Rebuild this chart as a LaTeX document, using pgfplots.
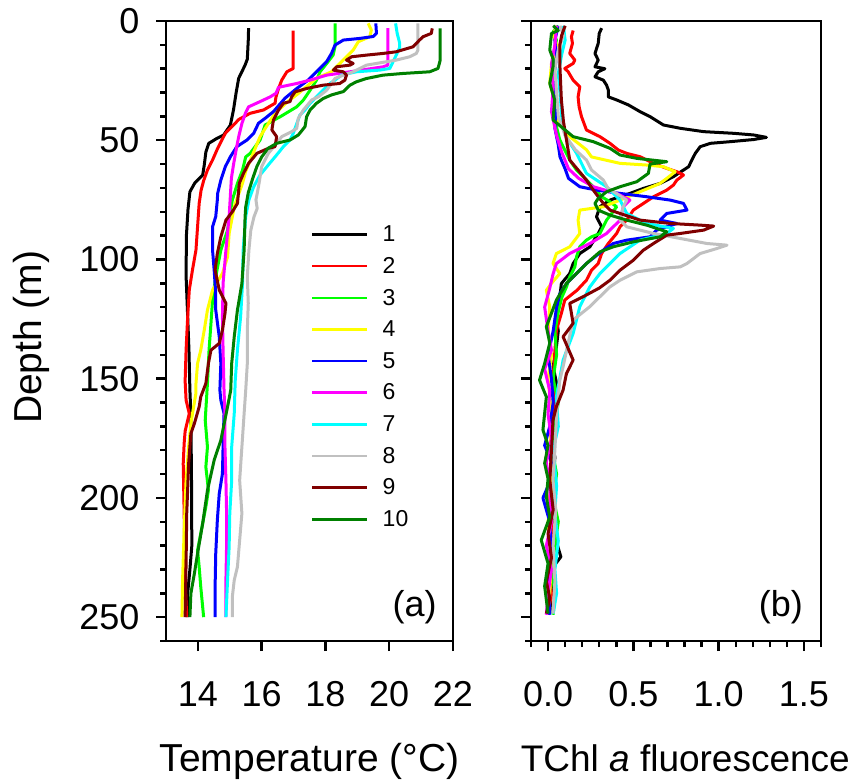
\documentclass[border=0pt]{standalone}
\usepackage{fontspec}
\setmainfont{Liberation Sans}
\usepackage{pgfplots}
\pgfplotsset{compat=1.18}
\definecolor{c1}{RGB}{0,0,0}
\definecolor{c2}{RGB}{255,0,0}
\definecolor{c3}{RGB}{0,255,0}
\definecolor{c4}{RGB}{255,255,0}
\definecolor{c5}{RGB}{0,0,255}
\definecolor{c6}{RGB}{255,0,255}
\definecolor{c7}{RGB}{0,255,255}
\definecolor{c8}{RGB}{192,192,192}
\definecolor{c9}{RGB}{128,0,0}
\definecolor{c10}{RGB}{0,128,0}
\pgfplotsset{
  myaxis/.style={
    scale only axis, height=620pt,
    ymin=0, ymax=260, y dir=reverse,
    ytick={0,50,...,250},
    minor ytick={10,20,30,40,60,70,80,90,110,120,130,140,160,170,180,190,210,220,230,240,260},
    tick align=outside, xtick pos=bottom, ytick pos=left,
    major tick length=10pt, minor tick length=6pt,
    axis line style={line width=2.6pt},
    every tick/.style={black, line width=2.4pt},
    tick label style={font=\fontsize{36}{43}\selectfont},
    xticklabel style={yshift=-27pt},
    yticklabel style={xshift=-13pt},
    /pgf/number format/assume math mode=true,
    label style={font=\fontsize{39}{47}\selectfont},
    every axis plot post/.append style={line width=3pt, line join=round, no marks},
  }
}
\begin{document}
\begin{tikzpicture}
\useasboundingbox (0pt,0pt) rectangle (854pt,784pt);
\begin{axis}[myaxis, at={(166pt,143pt)}, anchor=south west, width=287pt,
  xmin=13, xmax=22, xtick={14,16,18,20,22},
  xlabel={Temperature (°C)}, ylabel={Depth (m)},
  xlabel style={at={(axis description cs:0.5,-0.2108)}, anchor=base},
  ylabel style={at={(axis description cs:-0.433,0.49)}, anchor=base},
  legend style={at={(axis description cs:0.505,0.67)}, anchor=north west, draw=none, fill=none,
    inner sep=0pt, font=\fontsize{23}{27}\selectfont, row sep=14.2pt, column sep=14pt,
    nodes={inner sep=0pt}},
  legend cell align=left,
  legend image code/.code={\draw[#1, line width=2.6pt] (0pt,0pt) -- (55pt,0pt);},
]
\addplot[c1] coordinates {(15.59,3) (15.58,8) (15.55,16) (15.48,18.5) (15.28,24) (15.2,30) (15.12,37) (15.02,43.6) (14.81,47.8) (14.6,49.2) (14.34,51.3) (14.25,55) (14.2,60.4) (14.15,64.6) (13.9,68) (13.75,71.6) (13.69,79) (13.64,90) (13.63,107) (13.68,124) (13.72,138) (13.75,155) (13.78,165) (13.8,193) (13.81,220) (13.75,230) (13.68,240) (13.68,250)};
\addlegendentry{1}
\addplot[c2] coordinates {(16.99,4) (16.99,19.9) (16.79,21.3) (16.63,24.8) (16.53,28.3) (16.45,31.8) (16.42,34.5) (16.06,37.3) (15.64,38.7) (15.28,41.3) (15.17,42.9) (14.86,47.1) (14.7,51.3) (14.6,54) (14.46,58.3) (14.3,62.5) (14.18,67) (14.1,71) (14.04,76.5) (13.99,86.3) (13.94,96) (13.83,104.4) (13.73,112.8) (13.68,124) (13.63,138) (13.6,151) (13.63,159) (13.73,164.6) (13.6,172) (13.57,177) (13.54,185.6) (13.57,206.5) (13.6,234.5) (13.65,250)};
\addlegendentry{2}
\addplot[c3] coordinates {(18.3,1) (18.3,10.8) (18.24,14.3) (18.04,17.8) (17.83,21.3) (17.72,24.8) (17.52,29) (17.31,33.1) (17.1,36) (16.6,40) (16.11,43.6) (15.95,49.9) (15.64,55.5) (15.5,57) (15.4,62.5) (15.24,68.1) (15.08,75.1) (14.93,87.7) (14.72,96.1) (14.56,107.2) (14.46,117) (14.41,126.8) (14.35,138) (14.3,152) (14.23,167.4) (14.3,178.6) (14.25,187) (14.33,196.8) (14.25,203.7) (14.13,212.1) (13.99,221.9) (14.04,228.9) (14.09,237.3) (14.17,248.5) (14.18,250)};
\addlegendentry{3}
\addplot[c4] coordinates {(19.34,1) (19.44,3.8) (19.39,6.6) (19.03,8.7) (18.87,12.2) (18.66,15) (18.45,17.8) (18.19,21.3) (17.72,24) (17.15,30.4) (16.8,34) (16.42,38.7) (16.21,43) (15.95,48.5) (15.69,56.9) (15.5,63) (15.4,68) (15.14,77.9) (14.98,89.1) (14.93,98.9) (14.77,105.8) (14.46,112.8) (14.3,121.2) (14.2,129.6) (14.09,138) (13.99,143.6) (13.94,152) (13.94,156) (13.78,168.8) (13.71,178.6) (13.63,192.6) (13.57,213.5) (13.52,234.5) (13.5,250)};
\addlegendentry{4}
\addplot[c5] coordinates {(19.58,1) (19.6,5.2) (19.5,6.5) (19.08,7.3) (18.56,8) (18.3,10.1) (18.19,13.6) (18.04,17) (17.72,21.3) (17.46,24.8) (17.1,28.3) (16.73,32.4) (16.37,38) (16.11,40.8) (15.9,42.9) (15.75,47.1) (15.54,49.9) (15.22,52.7) (15.02,56.9) (14.86,61.1) (14.72,66.7) (14.62,72.3) (14.61,75) (14.56,82) (14.46,86.3) (14.46,96.1) (14.51,104.4) (14.56,114.2) (14.56,121.2) (14.67,132.4) (14.72,143.6) (14.69,154.8) (14.72,159) (14.82,164.6) (14.79,178.6) (14.77,189.8) (14.67,198.2) (14.61,209.3) (14.56,223.3) (14.54,237.3) (14.54,250)};
\addlegendentry{5}
\addplot[c6] coordinates {(19.96,3) (19.96,18.5) (19.81,19.2) (18.77,21.3) (18.04,22.7) (17.52,24.8) (17.1,26.2) (16.53,27.8) (16.45,30.3) (16.27,31.8) (15.95,33.8) (15.59,36) (15.49,38.7) (15.38,43) (15.28,48.5) (15.2,54) (15.12,60) (15.05,66) (14.98,82) (14.88,96) (14.79,110) (14.77,124) (14.79,138) (14.82,155) (14.85,165) (14.85,179) (14.88,193) (14.9,206) (14.9,220) (14.88,234) (14.88,250)};
\addlegendentry{6}
\addplot[c7] coordinates {(20.2,1) (20.25,5.2) (20.33,9.4) (20.33,11) (20.22,14.3) (20.07,18.5) (20.02,19.9) (19.7,20.6) (18.97,21.3) (18.5,22.7) (18.3,24.8) (18.14,26.2) (17.93,29) (17.78,31) (17.52,34.5) (17.36,37.3) (17.2,39.4) (16.99,47.1) (16.89,49.9) (16.68,52.7) (16.42,57) (16.23,60) (15.95,64.6) (15.75,69.5) (15.6,75) (15.5,82) (15.42,96) (15.4,110) (15.34,124) (15.24,138) (15.17,151) (15.14,164.6) (15.06,178.6) (15.06,192.6) (15.0,206.5) (14.98,220.5) (14.93,234.5) (14.88,250)};
\addlegendentry{7}
\addplot[c8] coordinates {(20.9,1) (20.9,12.2) (20.85,13.6) (20.64,15) (20.22,16.4) (19.29,18.5) (18.87,21.3) (18.56,22.7) (18.3,24.1) (18.19,26.2) (18.04,29) (17.78,31.8) (17.57,33.1) (17.31,37.3) (17.15,40.8) (17.1,45) (16.94,46.4) (16.63,48.5) (16.47,51.3) (16.21,55.5) (16.0,61.1) (15.92,68) (15.86,72.3) (15.82,75) (15.86,78.6) (15.76,82.1) (15.66,87.7) (15.6,96.1) (15.55,107.2) (15.58,118.4) (15.55,129.6) (15.55,143.6) (15.5,154.8) (15.45,164.6) (15.38,178.6) (15.31,192.6) (15.38,206.5) (15.31,217.7) (15.24,228.9) (15.14,234.5) (15.08,241.5) (15.08,250)};
\addlegendentry{8}
\addplot[c9] coordinates {(21.35,3.1) (21.32,5.2) (21.06,6.6) (20.95,8) (20.75,10.8) (20.22,12.9) (19.81,13.6) (19.29,14.3) (18.82,15) (18.66,16.4) (18.87,17.8) (18.77,18.5) (18.35,19.2) (18.25,20.6) (18.56,21.3) (18.66,22.7) (18.61,24.8) (18.45,26.2) (17.93,26.9) (17.41,28.3) (17.05,29.7) (16.94,31.8) (16.89,33.8) (16.68,34.5) (16.53,37.3) (16.37,41.5) (16.32,45.7) (16.47,48.5) (16.42,52.7) (16.21,53.4) (15.85,55.5) (15.59,59.7) (15.43,63.9) (15.3,68) (15.24,76.5) (15.08,80) (14.88,83.5) (14.72,90.5) (14.61,97.5) (14.54,104.4) (14.67,112.8) (14.88,118.4) (14.85,122.6) (14.77,129.6) (14.67,135.2) (14.41,138) (14.33,143.6) (14.25,152) (14.09,157.6) (14.04,161.8) (13.89,168.8) (13.78,173) (13.71,185.6) (13.65,206.5) (13.63,227.5) (13.6,250)};
\addlegendentry{9}
\addplot[c10] coordinates {(21.6,3.1) (21.6,16.4) (21.53,19.9) (21.27,21.3) (20.43,22) (19.81,22.7) (19.29,24.1) (18.97,25.5) (18.77,26.9) (18.56,29.6) (18.19,31) (17.93,32.5) (17.72,34.5) (17.52,37.3) (17.41,40.1) (17.36,44.3) (17.15,47.8) (16.89,49.9) (16.47,51.3) (16.2,53.4) (16.0,57) (15.85,61) (15.72,66) (15.58,72) (15.5,78) (15.48,82.1) (15.45,96.1) (15.38,110.1) (15.24,121.2) (15.14,132.4) (15.06,143.6) (15.03,154.8) (14.93,161.8) (14.72,175.8) (14.51,184.2) (14.3,196.8) (14.15,210.7) (13.99,223.3) (13.89,231.7) (13.78,240.1) (13.75,250)};
\addlegendentry{10}
\node[font=\fontsize{36}{43}\selectfont] at (axis description cs:0.866,0.054) {(a)};
\end{axis}
\begin{axis}[myaxis, at={(531pt,143pt)}, anchor=south west, width=290pt,
  xmin=-0.1, xmax=1.6, xtick={0,0.5,1,1.5},
  minor xtick={-0.1,0.1,0.2,0.3,0.4,0.6,0.7,0.8,0.9,1.1,1.2,1.3,1.4,1.6},
  xticklabel style={/pgf/number format/.cd, fixed, fixed zerofill, precision=1},
  yticklabels={},
  xlabel={TChl \textit{a} fluorescence},
  xlabel style={at={(axis description cs:0.532,-0.2108)}, anchor=base, font=\fontsize{37}{44}\selectfont},
]
\addplot[c1] coordinates {(0.314,3) (0.30,5.2) (0.294,9.4) (0.275,13.6) (0.294,16.4) (0.275,19.2) (0.333,20) (0.294,21.3) (0.275,23.4) (0.324,24.8) (0.343,26.9) (0.353,28.9) (0.353,31.8) (0.402,33.1) (0.471,35.2) (0.539,38) (0.598,40.1) (0.676,43.6) (0.775,45) (0.912,46.4) (1.088,47.1) (1.206,47.8) (1.28,48.8) (1.206,49.7) (1.069,50.6) (0.951,51.3) (0.892,52.7) (0.863,55.5) (0.843,58.3) (0.824,61.1) (0.794,62.5) (0.735,65.3) (0.657,68.1) (0.559,70.2) (0.48,72.3) (0.363,75.1) (0.304,77.9) (0.284,82.1) (0.314,86.3) (0.294,89.1) (0.245,94.7) (0.186,97.5) (0.147,101.7) (0.127,105.9) (0.078,110.1) (0.069,115.6) (0.049,125) (0.06,130) (0.049,136.6) (0.03,145) (0.05,152) (0.039,164.5) (0.02,175) (0.04,183) (0.029,192.5) (0.015,205) (0.035,215) (0.075,224.7) (0.04,228) (0.02,238) (0.01,248.5)};
\addplot[c2] coordinates {(0.147,4) (0.137,6.6) (0.143,9.4) (0.127,13.6) (0.157,16.4) (0.147,17.8) (0.098,19.9) (0.118,21.3) (0.147,24.8) (0.186,27.6) (0.176,31.8) (0.182,36) (0.196,40.1) (0.225,45.7) (0.304,48.5) (0.363,51.3) (0.412,54.1) (0.461,55.5) (0.539,56.9) (0.618,59.7) (0.696,61.8) (0.755,63.2) (0.794,64.6) (0.755,66.7) (0.735,68.8) (0.696,70.9) (0.618,73.7) (0.559,76.5) (0.5,79.3) (0.461,83.5) (0.422,86.3) (0.402,89.1) (0.353,93.3) (0.314,97.5) (0.294,101.7) (0.255,104.5) (0.225,108.7) (0.17,112.9) (0.098,117) (0.078,122.6) (0.049,129.6) (0.039,139.4) (0.029,150.6) (0.04,160) (0.02,170) (0.03,185) (0.01,200) (0.03,215) (0.0,230) (0.02,240) (0.0,249)};
\addplot[c3] coordinates {(0.06,2) (0.03,4.5) (0.049,8) (0.029,15) (0.029,23.4) (0.039,33.2) (0.029,40.1) (0.049,44.3) (0.069,49.9) (0.098,54.1) (0.127,58.3) (0.167,62.5) (0.225,66.7) (0.284,70.9) (0.314,73.7) (0.363,75.8) (0.402,77.9) (0.373,80.7) (0.343,83.5) (0.304,89.1) (0.255,90.5) (0.225,91.9) (0.186,94.7) (0.167,98.9) (0.157,103.1) (0.127,107.3) (0.108,111.5) (0.08,116) (0.06,122) (0.04,130) (0.05,140) (0.03,150) (0.06,160) (0.04,170) (0.025,180) (0.05,190) (0.03,200) (0.06,210) (0.04,220) (0.02,230) (0.04,240) (0.03,249)};
\addplot[c4] coordinates {(0.05,2) (0.03,6) (0.05,10) (0.02,18) (0.01,26) (0.04,34) (0.06,42) (0.127,48.5) (0.225,54) (0.255,57) (0.422,59.7) (0.578,60.4) (0.676,61.1) (0.745,63.2) (0.696,66) (0.657,68.1) (0.539,71.6) (0.422,75.1) (0.324,77.9) (0.186,79.3) (0.176,83.5) (0.186,89.1) (0.127,94.7) (0.049,97.5) (0.029,101.7) (0.069,105.9) (0.02,110) (-0.01,112.9) (0.01,120) (0.0,130) (0.02,140) (0.0,150) (0.02,165) (0.01,180) (0.03,195) (0.0,210) (0.02,225) (0.01,240) (0.0,249)};
\addplot[c5] coordinates {(0.06,2) (0.04,8) (0.05,15) (0.03,25) (0.05,35) (0.04,45) (0.06,52) (0.07,57) (0.1,62) (0.12,66) (0.186,69.5) (0.284,70.9) (0.422,72.3) (0.578,73.7) (0.716,75.1) (0.794,76.5) (0.814,79.3) (0.696,80.7) (0.657,83.5) (0.755,84.9) (0.696,86.3) (0.637,87.7) (0.598,90.5) (0.461,91.9) (0.382,93.3) (0.324,96.1) (0.225,101.7) (0.167,105.9) (0.108,110.1) (0.069,114.3) (0.05,120) (0.03,130) (0.0,140) (0.02,150) (0.03,160) (0.01,170) (-0.02,178) (0.02,185) (0.0,195) (-0.03,200) (0.01,210) (0.02,225) (0.0,235) (0.01,249)};
\addplot[c6] coordinates {(0.05,2) (0.04,10) (0.02,18) (0.03,28) (0.02,38) (0.05,48) (0.08,55) (0.12,62) (0.18,66) (0.265,69.5) (0.402,72.3) (0.48,75.1) (0.441,77.9) (0.422,83.5) (0.343,89.1) (0.245,93.3) (0.127,97.5) (0.049,101.7) (0.03,105.9) (0.01,112) (-0.02,120) (0.0,130) (0.02,138) (-0.02,146) (0.01,155) (0.0,165) (0.02,175) (-0.01,185) (0.01,195) (0.02,210) (-0.01,220) (0.02,230) (0.0,240) (-0.01,249)};
\addplot[c7] coordinates {(0.09,2) (0.1,8) (0.08,14) (0.06,22) (0.07,30) (0.08,40) (0.1,48) (0.167,55.5) (0.225,63.9) (0.343,69.5) (0.422,75.1) (0.461,80.7) (0.578,84.9) (0.735,87) (0.696,89.1) (0.539,91.9) (0.422,97.5) (0.363,101.7) (0.304,105.9) (0.245,111.5) (0.225,114.3) (0.186,119.8) (0.147,131) (0.088,142.2) (0.049,157.6) (0.06,170) (0.03,180) (0.05,195) (0.039,206.5) (0.06,218) (0.04,230) (0.05,240) (0.03,248.5)};
\addplot[c8] coordinates {(0.07,2) (0.09,6) (0.06,12) (0.04,20) (0.05,30) (0.06,40) (0.1,48) (0.16,54) (0.225,58.3) (0.255,62.5) (0.324,66.7) (0.35,70) (0.461,75.1) (0.44,78) (0.422,83.5) (0.461,86.3) (0.618,89.1) (0.775,91.2) (0.931,93.3) (1.049,94) (0.99,95.4) (0.892,97.5) (0.814,101.7) (0.775,103.1) (0.657,103.8) (0.52,105.2) (0.422,108.7) (0.363,111.5) (0.324,114.2) (0.245,119.8) (0.147,125.4) (0.088,145) (0.069,150.6) (0.05,165) (0.04,180) (0.029,192.5) (0.045,205) (0.03,220) (0.04,235) (0.029,248.5)};
\addplot[c9] coordinates {(0.1,2) (0.08,6) (0.069,10) (0.07,20) (0.078,33) (0.09,42) (0.108,49.9) (0.127,58.3) (0.225,66.7) (0.265,70.9) (0.324,76.5) (0.363,79.3) (0.422,80.7) (0.539,83.5) (0.716,84.9) (0.892,85.6) (0.971,86) (0.912,87.7) (0.775,89.1) (0.696,89.8) (0.618,93.3) (0.559,96.1) (0.5,100.3) (0.422,104.5) (0.363,108.7) (0.3,112) (0.206,115.6) (0.127,118.4) (0.147,126.8) (0.088,132.4) (0.147,142.2) (0.108,147.8) (0.088,154.8) (0.049,161.7) (0.029,167.3) (0.02,180) (0.01,192.5) (0.03,205) (0.0,215) (0.02,225) (-0.01,235) (0.01,242) (-0.01,248.5)};
\addplot[c10] coordinates {(0.03,2) (0.06,4) (0.02,5.2) (0.01,12.2) (0.03,16) (0.029,19.2) (0.01,26.2) (0.039,33.2) (0.029,41.5) (0.147,48.5) (0.265,50.6) (0.363,53.4) (0.422,56.2) (0.52,57.6) (0.696,59) (0.598,60) (0.588,63.9) (0.52,67.4) (0.422,69.5) (0.343,71.6) (0.294,74.4) (0.275,76.5) (0.294,79.3) (0.363,81.4) (0.461,83.5) (0.578,85.6) (0.696,88.4) (0.657,90.5) (0.5,92.6) (0.382,94.7) (0.304,96.8) (0.225,101.7) (0.147,107.3) (0.108,110) (0.049,117) (-0.01,128.2) (0.01,135) (-0.02,143.6) (-0.05,150.6) (-0.01,157.6) (-0.03,171.5) (0.0,178) (-0.02,185.5) (0.0,192) (-0.01,199.5) (0.01,208) (-0.04,217.7) (0.0,227.5) (-0.02,237) (0.0,248.5)};
\node[font=\fontsize{36}{43}\selectfont] at (axis description cs:0.862,0.054) {(b)};
\end{axis}
\end{tikzpicture}
\end{document}
